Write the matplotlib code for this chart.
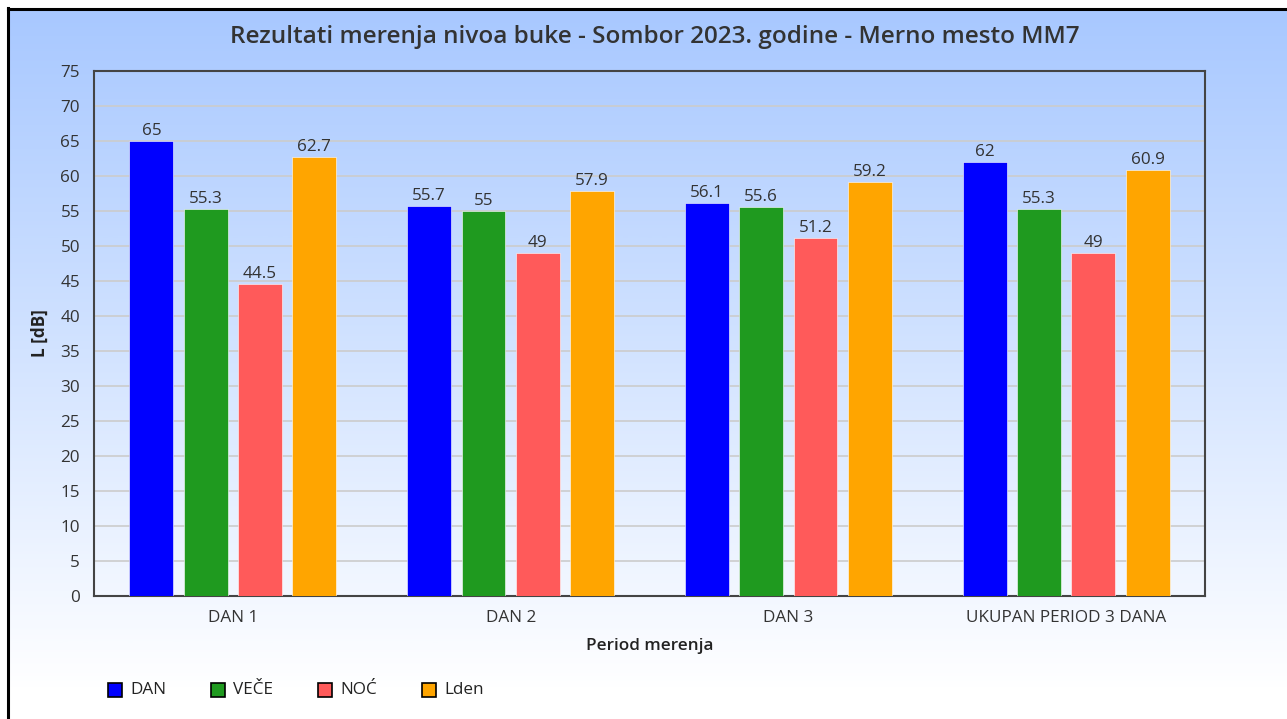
import numpy as np
import matplotlib
matplotlib.use("Agg")
import matplotlib.pyplot as plt
from matplotlib.patches import Rectangle
from matplotlib.colors import LinearSegmentedColormap
from matplotlib.lines import Line2D

plt.rcParams['font.family'] = ['Open Sans', 'DejaVu Sans']

categories = ["DAN 1", "DAN 2", "DAN 3", "UKUPAN PERIOD 3 DANA"]
series_names = ["DAN", "VEČE", "NOĆ", "Lden"]
dan = [65, 55.7, 56.1, 62]
vece = [55.3, 55, 55.6, 55.3]
noc = [44.5, 49, 51.2, 49]
lden = [62.7, 57.9, 59.2, 60.9]
colors = ["#0000ff", "#1f9a1f", "#ff5a5a", "#ffa500"]
yticks = list(range(0, 80, 5))

title = "Rezultati merenja nivoa buke - Sombor 2023. godine - Merno mesto MM7"
xlabel = "Period merenja"
ylabel = "L [dB]"

W, H = 1287, 719
FS = 12.3
fig = plt.figure(figsize=(W / 100, H / 100), dpi=100)

# background gradient panel with a dark frame on the left and top
bg = fig.add_axes([0, 0, 1, 1], zorder=-10)
bg.set_xlim(0, W)
bg.set_ylim(H, 0)
bg.axis('off')
grad = LinearSegmentedColormap.from_list("bg", ["#a8c8ff", "#d2e3ff", "#ffffff"])
ys = np.linspace(0, 1, 400).reshape(-1, 1)
bg.imshow(ys, aspect='auto', cmap=grad, extent=(9, W, 690, 9), zorder=0)
bg.add_patch(Rectangle((9, 690), W - 9, H - 690, color="white", zorder=1))
bg.add_line(Line2D([8, 8], [8, H], color="black", lw=2.2, zorder=2))
bg.add_line(Line2D([8, W], [9, 9], color="black", lw=2.2, zorder=2))

ax = fig.add_axes([94 / W, 1 - 596 / H, (1205 - 94) / W, (596 - 71) / H])
ax.patch.set_alpha(0)

x = np.arange(len(categories))
pitch = 0.1955
width = 0.158
all_series = [dan, vece, noc, lden]
for i, (vals, name, c) in enumerate(zip(all_series, series_names, colors)):
    offs = (i - 1.5) * pitch
    bars = ax.bar(x + offs, vals, width=width, color=c, label=name, zorder=3,
                  edgecolor="white", linewidth=0.4)
    ax.bar_label(bars, labels=[f"{v:g}" for v in vals], padding=1.5,
                 fontsize=FS, color="#333333", zorder=4)

ax.set_xlim(-0.5, len(categories) - 0.5)
ax.set_ylim(0, 75)
ax.set_yticks(yticks)
ax.set_xticks(x)
ax.set_xticklabels(categories)
ax.tick_params(axis='both', length=0, labelsize=FS, labelcolor="#333333")
ax.tick_params(axis='x', pad=10)
ax.tick_params(axis='y', pad=10)
ax.yaxis.grid(True, color="#cccccc", linewidth=1.2, zorder=0)
ax.set_axisbelow(True)
for s in ax.spines.values():
    s.set_color("#444444")
    s.set_linewidth(1.5)

fig.text(655 / W, 1 - 37 / H, title, ha='center', va='center', fontsize=17.5,
         fontweight='semibold', color="#333333")
fig.text(40 / W, 1 - 333 / H, ylabel, ha='center', va='center', rotation=90,
         fontsize=FS, fontweight='bold', color="#222222")
fig.text(650 / W, 1 - 646 / H, xlabel, ha='center', va='center', fontsize=FS,
         fontweight='semibold', color="#222222")

# legend row: colour swatches with labels
legend_x = [108, 211, 318, 422]
for lx, name, c in zip(legend_x, series_names, colors):
    bg.add_patch(Rectangle((lx, 683), 14, 14, facecolor=c, edgecolor="black",
                           linewidth=1.2, zorder=3))
    bg.text(lx + 22, 690, name, ha='left', va='center', fontsize=FS,
            color="#222222", zorder=3)

fig.savefig("out.png", dpi=100)
